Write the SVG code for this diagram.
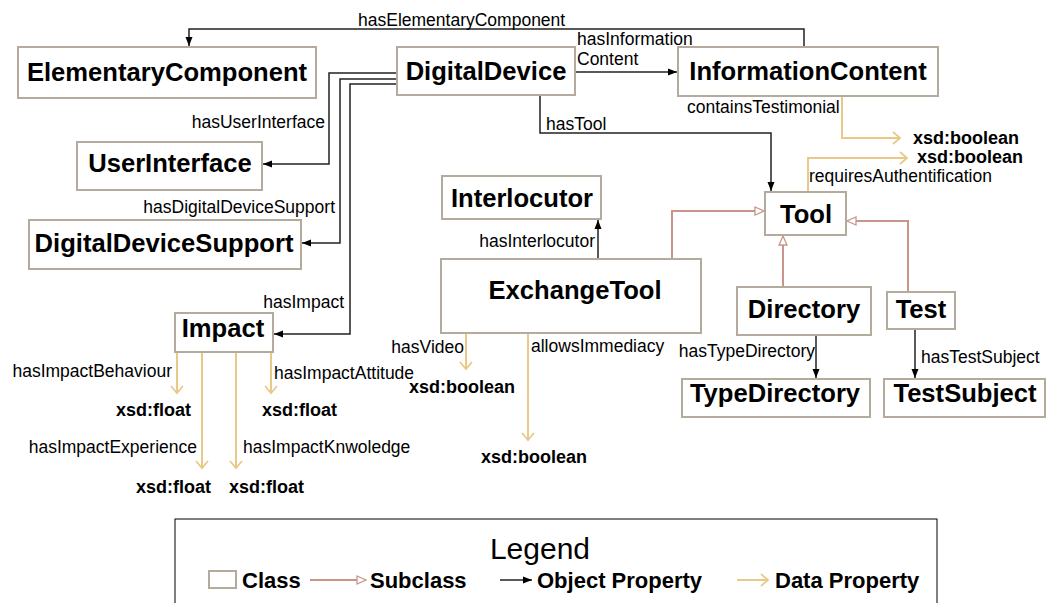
<svg xmlns="http://www.w3.org/2000/svg" width="1046" height="603" viewBox="0 0 1046 603">
<style>
text{font-family:"Liberation Sans",Arial,sans-serif;fill:#000}
.cls rect{fill:#fff;stroke:#b5ab9c;stroke-width:2}
.cls text{font-size:25.6px;font-weight:bold;text-anchor:middle}
.lbl{font-size:17.5px}
.dt{font-size:18px;font-weight:bold}
.obj{fill:none;stroke:#222;stroke-width:1.5}
.sub{fill:none;stroke:#c9958a;stroke-width:2}
.dat{fill:none;stroke:#e8c98a;stroke-width:2}
.end{text-anchor:end}
.leg{font-size:22px;font-weight:bold}
</style>
<defs>
<marker id="mo" markerUnits="userSpaceOnUse" markerWidth="10" markerHeight="8" refX="9" refY="4" orient="auto"><path d="M0,0.5 L9,4 L0,7.5 z" fill="#000"/></marker>
<marker id="ms" markerUnits="userSpaceOnUse" markerWidth="11" markerHeight="10" refX="10" refY="5" orient="auto"><path d="M1,1 L10,5 L1,9 z" fill="#fff" stroke="#c9958a" stroke-width="1.3"/></marker>
<marker id="md" markerUnits="userSpaceOnUse" markerWidth="10" markerHeight="14" refX="8" refY="7" orient="auto"><path d="M1,1 L8,7 L1,13" fill="none" stroke="#e8c98a" stroke-width="1.8"/></marker>
</defs>
<g id="connectors">
<path class="obj" d="M804,47 V29 H189 V46" marker-end="url(#mo)"/>
<path class="obj" d="M575,72 H677" marker-end="url(#mo)"/>
<path class="obj" d="M540,95 V133 H771 V191" marker-end="url(#mo)"/>
<path class="obj" d="M397,73 H329 V164 H263" marker-end="url(#mo)"/>
<path class="obj" d="M397,79 H340 V243 H302" marker-end="url(#mo)"/>
<path class="obj" d="M397,84 H350 V334 H274" marker-end="url(#mo)"/>
<path class="obj" d="M598,259 V220" marker-end="url(#mo)"/>
<path class="obj" d="M816,335 V378" marker-end="url(#mo)"/>
<path class="obj" d="M915,329 V378" marker-end="url(#mo)"/>
<path class="sub" d="M672,259 V211 H764" marker-end="url(#ms)"/>
<path class="sub" d="M783,287 V236" marker-end="url(#ms)"/>
<path class="sub" d="M908,292 V221 H847" marker-end="url(#ms)"/>
<path class="dat" d="M842,96 V138 H900" marker-end="url(#md)"/>
<path class="dat" d="M808,192 V158 H907" marker-end="url(#md)"/>
<path class="dat" d="M177,352 V393" marker-end="url(#md)"/>
<path class="dat" d="M202,352 V468" marker-end="url(#md)"/>
<path class="dat" d="M236,352 V468" marker-end="url(#md)"/>
<path class="dat" d="M271,352 V393" marker-end="url(#md)"/>
<path class="dat" d="M466,333 V369" marker-end="url(#md)"/>
<path class="dat" d="M528,333 V440" marker-end="url(#md)"/>
<text class="lbl" x="358" y="26">hasElementaryComponent</text>
<text class="lbl" x="577" y="45">hasInformation</text>
<text class="lbl" x="577" y="65">Content</text>
<text class="lbl" x="546" y="130">hasTool</text>
<text class="lbl end" x="325" y="128">hasUserInterface</text>
<text class="lbl end" x="335" y="213">hasDigitalDeviceSupport</text>
<text class="lbl end" x="344" y="308">hasImpact</text>
<text class="lbl end" x="595" y="247">hasInterlocutor</text>
<text class="lbl end" x="815" y="357">hasTypeDirectory</text>
<text class="lbl" x="921" y="363">hasTestSubject</text>
<text class="lbl" x="687" y="113">containsTestimonial</text>
<text class="lbl" x="809" y="182">requiresAuthentification</text>
<text class="lbl end" x="172" y="377">hasImpactBehaviour</text>
<text class="lbl end" x="197" y="453">hasImpactExperience</text>
<text class="lbl" x="243" y="453">hasImpactKnwoledge</text>
<text class="lbl" x="274" y="379">hasImpactAttitude</text>
<text class="lbl end" x="464" y="353">hasVideo</text>
<text class="lbl" x="531" y="352">allowsImmediacy</text>
<text class="dt" x="913" y="144">xsd:boolean</text>
<text class="dt" x="917" y="163">xsd:boolean</text>
<text class="dt" x="116" y="416">xsd:float</text>
<text class="dt" x="136" y="493">xsd:float</text>
<text class="dt" x="229" y="493">xsd:float</text>
<text class="dt" x="262" y="416">xsd:float</text>
<text class="dt" x="409" y="393">xsd:boolean</text>
<text class="dt" x="481" y="463">xsd:boolean</text>
</g>
<g id="ElementaryComponent" class="cls"><rect x="18" y="47" width="298" height="51"/><text x="167" y="81">ElementaryComponent</text></g>
<g id="DigitalDevice" class="cls"><rect x="397" y="47" width="178" height="48"/><text x="486" y="80">DigitalDevice</text></g>
<g id="InformationContent" class="cls"><rect x="678" y="47" width="260" height="49"/><text x="808" y="80">InformationContent</text></g>
<g id="UserInterface" class="cls"><rect x="77" y="142" width="185" height="48"/><text x="170" y="172">UserInterface</text></g>
<g id="DigitalDeviceSupport" class="cls"><rect x="29" y="220" width="272" height="49"/><text x="164" y="252">DigitalDeviceSupport</text></g>
<g id="Impact" class="cls"><rect x="175" y="313" width="98" height="39"/><text x="223" y="337">Impact</text></g>
<g id="Interlocutor" class="cls"><rect x="442" y="176" width="159" height="43"/><text x="522" y="207">Interlocutor</text></g>
<g id="ExchangeTool" class="cls"><rect x="441" y="259" width="260" height="74"/><text x="575" y="299">ExchangeTool</text></g>
<g id="Tool" class="cls"><rect x="765" y="192" width="81" height="43"/><text x="806" y="223">Tool</text></g>
<g id="Directory" class="cls"><rect x="737" y="287" width="134" height="48"/><text x="804" y="318">Directory</text></g>
<g id="Test" class="cls"><rect x="887" y="292" width="68" height="37"/><text x="921" y="318">Test</text></g>
<g id="TypeDirectory" class="cls"><rect x="682" y="379" width="188" height="38"/><text x="775" y="402">TypeDirectory</text></g>
<g id="TestSubject" class="cls"><rect x="884" y="379" width="161" height="38"/><text x="965" y="402">TestSubject</text></g>
<g id="legend">
<rect x="175" y="519" width="762" height="100" fill="#fff" stroke="#000" stroke-width="1"/>
<text x="540" y="559" font-size="30" text-anchor="middle">Legend</text>
<rect x="209" y="571" width="27" height="17" fill="#fff" stroke="#b5ab9c" stroke-width="2"/>
<text class="leg" x="242" y="588">Class</text>
<path class="sub" d="M310,580 H366" marker-end="url(#ms)"/>
<text class="leg" x="370" y="588">Subclass</text>
<path class="obj" d="M500,580 H532" marker-end="url(#mo)"/>
<text class="leg" x="537" y="588">Object Property</text>
<path class="dat" d="M737,580 H768" marker-end="url(#md)"/>
<text class="leg" x="775" y="588">Data Property</text>
</g>
</svg>
